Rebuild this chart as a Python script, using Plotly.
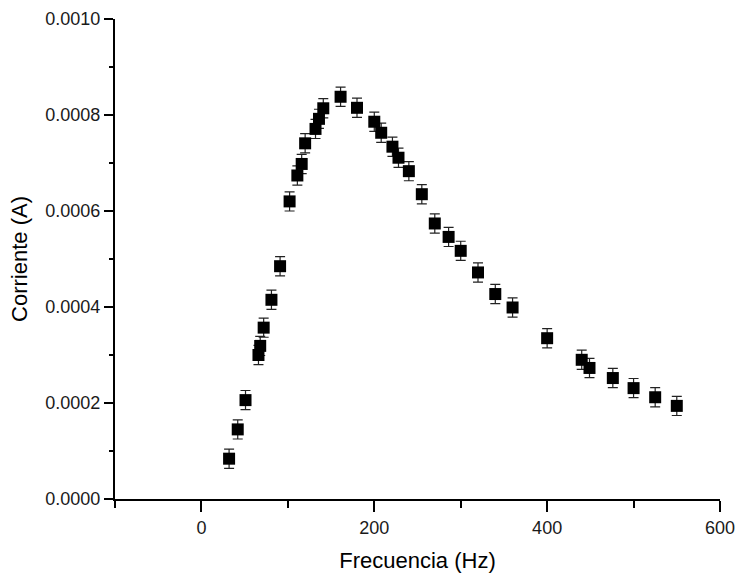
import plotly.graph_objects as go

frecuencia = [32, 42, 51, 66, 68, 72, 81, 91, 102, 111, 116, 120, 132, 136, 141,
              161, 180, 200, 208, 221, 228, 240, 255, 270, 286, 300, 320, 340, 360,
              400, 440, 449, 476, 500, 525, 550]
corriente = [0.000084, 0.000145, 0.000206, 0.000300, 0.000319, 0.000357, 0.000415,
             0.000485, 0.000620, 0.000674, 0.000698, 0.000741, 0.000771, 0.000792,
             0.000814, 0.000838, 0.000815, 0.000786, 0.000763, 0.000734, 0.000711,
             0.000683, 0.000635, 0.000574, 0.000546, 0.000517, 0.000472, 0.000427,
             0.000399, 0.000335, 0.000290, 0.000273, 0.000252, 0.000231, 0.000212,
             0.000194]
error = [0.00002, 0.00002, 0.00002, 0.00002, 0.00002, 0.00002, 0.00002, 0.00002,
         0.00002, 0.00002, 0.00002, 0.00002, 0.00002, 0.00002, 0.00002, 0.00002,
         0.00002, 0.00002, 0.00002, 0.00002, 0.00002, 0.00002, 0.00002, 0.00002,
         0.00002, 0.00002, 0.00002, 0.00002, 0.00002, 0.00002, 0.00002, 0.00002,
         0.00002, 0.00002, 0.00002, 0.00002]

x_title = "Frecuencia (Hz)"
y_title = "Corriente (A)"

FONT = "Liberation Sans, Arial, sans-serif"

fig = go.Figure()
fig.add_trace(go.Scatter(
    x=frecuencia, y=corriente, mode="markers",
    marker=dict(symbol="square", size=12, color="black"),
    error_y=dict(type="data", array=error, visible=True, color="#222222",
                 thickness=1.2, width=5),
    showlegend=False,
    cliponaxis=False,
))

fig.update_layout(
    width=736, height=576,
    margin=dict(l=115, r=16, t=19, b=77),
    paper_bgcolor="white", plot_bgcolor="white",
    font=dict(family=FONT, size=18, color="#1a1a1a"),
    xaxis=dict(
        range=[-100, 600], tick0=0, dtick=200, automargin=False,
        showline=True, linecolor="black", linewidth=2,
        ticks="outside", ticklen=11, tickwidth=2, tickcolor="black",
        showgrid=False, zeroline=False,
        minor=dict(ticks="outside", ticklen=7, tickwidth=2, tickcolor="black",
                   dtick=100, tick0=0, showgrid=False),
        title=dict(text=x_title, font=dict(size=22, color="black"), standoff=16),
        tickfont=dict(size=18),
    ),
    yaxis=dict(
        range=[0, 0.001], tick0=0, dtick=0.0002, tickformat=".4f", automargin=False,
        showline=True, linecolor="black", linewidth=2,
        ticks="outside", ticklen=9, tickwidth=2, tickcolor="black",
        showgrid=False, zeroline=False,
        minor=dict(ticks="outside", ticklen=4, tickwidth=2, tickcolor="black",
                   dtick=0.0001, tick0=0, showgrid=False),
        title=dict(text=y_title, font=dict(size=22, color="black"), standoff=12),
        tickfont=dict(size=18),
    ),
)

# remove the browser's default 8px body margin so the figure fills the window
fig.write_html(
    "out.html",
    config={"displayModeBar": False},
    post_script="document.body.style.margin='0';document.body.style.overflow='hidden';",
)
